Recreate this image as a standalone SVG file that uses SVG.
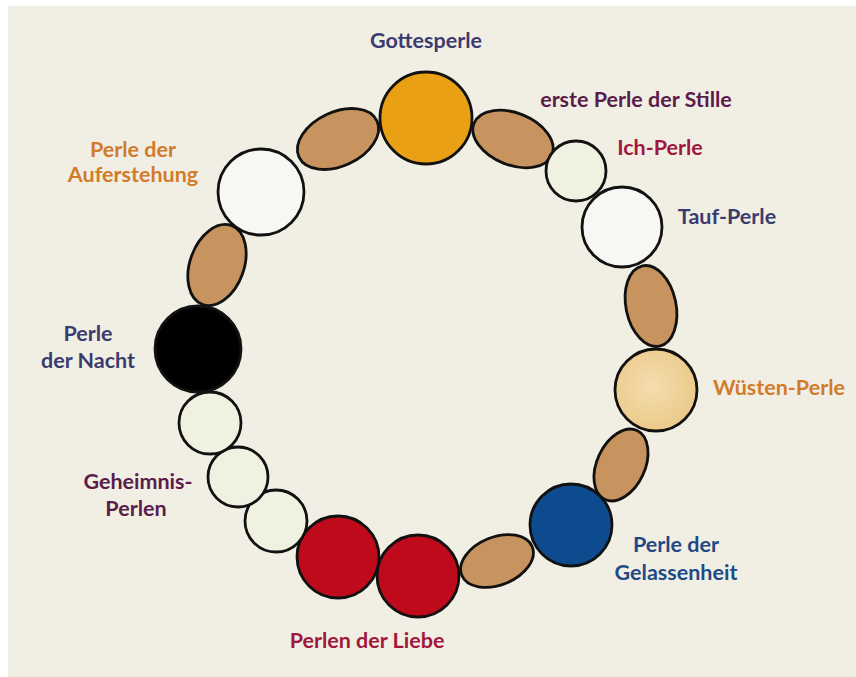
<svg xmlns="http://www.w3.org/2000/svg" width="856" height="677" viewBox="0 0 856 677">
<defs>
<radialGradient id="sand" cx="0.45" cy="0.45" r="0.6">
<stop offset="0" stop-color="#F4DDB0"/>
<stop offset="1" stop-color="#EBC987"/>
</radialGradient>
</defs>
<style>
.b{stroke:#111;stroke-width:2.8}
.brown{fill:#C7935E}
.cream{fill:#F1F1E1}
.white{fill:#F7F7F4}
text{font-family:Lato,"Open Sans","Liberation Sans",sans-serif;font-weight:700;font-size:21.5px;text-anchor:middle}
.indigo{fill:#3C3B6F}
.plum{fill:#5B1C4C}
.crimson{fill:#A2173C}
.orange{fill:#D17B2B}
.blue{fill:#1F4A86}
</style>
<rect x="0" y="0" width="856" height="677" fill="#FFFFFF"/>
<rect x="8" y="6" width="848" height="671" fill="#F1EFE4"/>
<g id="connectors"></g>
<g id="gottesperle"><circle class="b" cx="426" cy="118" r="46" fill="#EAA014"/><text class="indigo" x="426" y="48">Gottesperle</text></g>
<g id="zwischen1"><ellipse class="b brown" cx="338" cy="139" rx="43" ry="27" transform="rotate(-25 338 139)"/></g>
<g id="zwischen2"><ellipse class="b brown" cx="513" cy="139" rx="42" ry="26" transform="rotate(22 513 139)"/><text class="plum" x="636" y="107">erste Perle der Stille</text></g>
<g id="ich-perle"><circle class="b cream" cx="576" cy="171" r="30"/><text class="crimson" x="660" y="155">Ich-Perle</text></g>
<g id="tauf-perle"><circle class="b white" cx="622" cy="227" r="40"/><text class="indigo" x="727" y="224">Tauf-Perle</text></g>
<g id="zwischen3"><ellipse class="b brown" cx="651" cy="306" rx="25" ry="41" transform="rotate(-12 651 306)"/></g>
<g id="wuesten-perle"><circle class="b" cx="656" cy="390" r="41" fill="url(#sand)"/><text class="orange" x="779" y="395">Wüsten-Perle</text></g>
<g id="zwischen4"><ellipse class="b brown" cx="621" cy="465" rx="24" ry="38" transform="rotate(25 621 465)"/></g>
<g id="gelassenheit"><circle class="b" cx="571" cy="525" r="41" fill="#0D4A8E"/><text class="blue" x="676" y="552">Perle der</text><text class="blue" x="676" y="580">Gelassenheit</text></g>
<g id="zwischen5"><ellipse class="b brown" cx="497" cy="561" rx="38" ry="24" transform="rotate(-22 497 561)"/></g>
<g id="liebe2"><circle class="b" cx="418" cy="576" r="41" fill="#BF0A1B"/></g>
<g id="liebe1"><circle class="b" cx="338" cy="557" r="41" fill="#BF0A1B"/><text class="crimson" x="367" y="648">Perlen der Liebe</text></g>
<g id="geheimnis3"><circle class="b cream" cx="276" cy="521" r="31"/></g>
<g id="geheimnis2"><circle class="b cream" cx="238" cy="477" r="30"/></g>
<g id="geheimnis1"><circle class="b cream" cx="210" cy="423" r="31"/><text class="plum" x="138" y="489">Geheimnis-</text><text class="plum" x="136" y="516">Perlen</text></g>
<g id="nacht"><circle class="b" cx="198" cy="349" r="43" fill="#000"/><text class="indigo" x="88" y="341">Perle</text><text class="indigo" x="88" y="368">der Nacht</text></g>
<g id="zwischen6"><ellipse class="b brown" cx="217" cy="265" rx="27" ry="42" transform="rotate(20 217 265)"/></g>
<g id="auferstehung"><circle class="b white" cx="261" cy="192" r="43"/><text class="orange" x="133" y="157">Perle der</text><text class="orange" x="133" y="182">Auferstehung</text></g>
</svg>
